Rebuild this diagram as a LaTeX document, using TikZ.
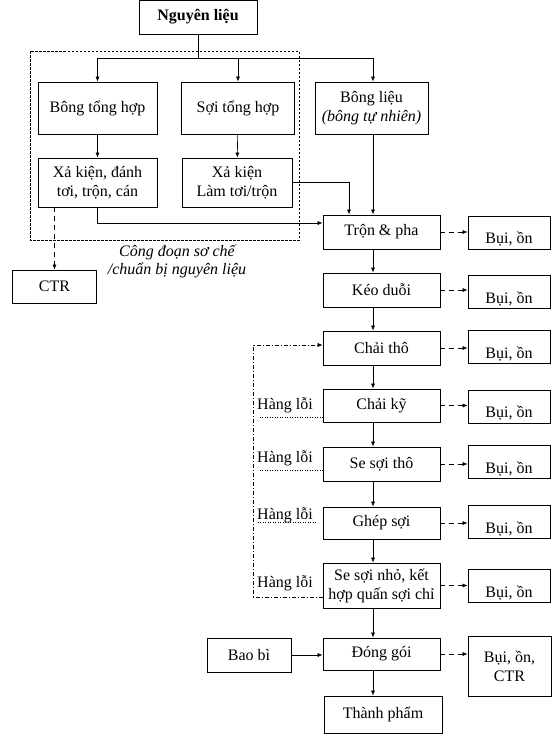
\documentclass[tikz,border=0pt]{standalone}
\usepackage{fontspec}
\setmainfont{Liberation Serif}
\usetikzlibrary{arrows.meta}

\tikzset{
    khoi/.style = {draw, line width = 0.8pt, align = center, inner sep = 2pt,
                   font = \fontsize{16}{19}\selectfont},
    giua/.style = {khoi, minimum width = 117pt, minimum height = 34pt},
    buiOn/.style = {khoi, minimum width = 82pt, minimum height = 33pt,
                    text height = 22pt, text depth = 0pt}, % chữ hơi thấp trong khung
    mui/.style = {-{Latex[length = 5pt, width = 4pt]}, line width = 0.6pt},
    thai/.style = {mui, dash pattern = on 5pt off 4pt},
    khung/.style = {line width = 0.6pt, dash pattern = on 2.5pt off 1.5pt},
    vong/.style = {mui, line width = 0.5pt, dash pattern = on 4pt off 2pt on 1pt off 2pt},
    cham/.style = {line width = 0.5pt, dotted},
    nhan/.style = {font = \fontsize{16}{19}\selectfont, inner sep = 1pt}
}

\begin{document}
\begin{tikzpicture}[x = 1pt, y = -1pt]
    \useasboundingbox (0, 0) rectangle (553, 737);

    % Nguyên liệu và sơ chế
    \node[khoi, minimum width = 118pt, minimum height = 34pt, font = \fontsize{16}{19}\selectfont\bfseries]
        (nguyenLieu) at (198, 17) {Nguyên liệu};
    \node[khoi, minimum width = 119pt, minimum height = 52pt] (bongTH) at (97.5, 108) {Bông tổng hợp};
    \node[khoi, minimum width = 113pt, minimum height = 52pt] (soiTH) at (238, 108) {Sợi tổng hợp};
    \node[khoi, minimum width = 113pt, minimum height = 52pt] (bongLieu) at (371.5, 108)
        {Bông liệu\\\textit{(bông tự nhiên)}};
    \node[khoi, minimum width = 119pt, minimum height = 49pt] (xaKien1) at (97.5, 182.5)
        {Xả kiện, đánh\\tơi, trộn, cán};
    \node[khoi, minimum width = 110pt, minimum height = 49pt] (xaKien2) at (237, 182.5)
        {Xả kiện\\Làm tơi/trộn};
    \node[khoi, minimum width = 84pt, minimum height = 33pt] (ctr) at (54.5, 286.5) {CTR};

    \draw[khung] (30, 51) rectangle (299, 240); % khung công đoạn sơ chế
    \node[nhan, align = center, font = \fontsize{16}{18}\selectfont\itshape] (congDoan) at (177, 261)
        {Công đoạn sơ chế\\/chuẩn bị nguyên liệu};

    % Dây chuyền chính
    \coordinate (truc) at (373, 0); % trục mũi tên dọc
    \node[giua] (tronPha) at (381.5, 232) {Trộn \& pha};
    \node[giua] (keoDuoi) at (381.5, 290) {Kéo duỗi};
    \node[giua] (chaiTho) at (381.5, 348) {Chải thô};
    \node[giua, minimum height = 33pt] (chaiKy) at (381.5, 405.5) {Chải kỹ};
    \node[giua] (seSoiTho) at (381.5, 464) {Se sợi thô};
    \node[giua, minimum height = 32pt] (ghepSoi) at (381.5, 523) {Ghép sợi};
    \node[giua, minimum height = 45pt] (seSoiNho) at (381.5, 585.5) {Se sợi nhỏ, kết\\hợp quấn sợi chỉ};
    \node[giua, minimum height = 32pt] (dongGoi) at (381.5, 654) {Đóng gói};
    \node[giua, minimum width = 118pt, minimum height = 37pt] (thanhPham) at (383, 714.5) {Thành phẩm};
    \node[khoi, minimum width = 84pt, minimum height = 34pt] (baoBi) at (249, 655) {Bao bì};

    % Chất thải
    \node[buiOn] (bui1) at (509, 232.5) {Bụi, ồn};
    \node[buiOn] (bui2) at (509, 292) {Bụi, ồn};
    \node[buiOn] (bui3) at (509, 347) {Bụi, ồn};
    \node[buiOn] (bui4) at (509, 406.5) {Bụi, ồn};
    \node[buiOn] (bui5) at (509, 462) {Bụi, ồn};
    \node[buiOn] (bui6) at (509, 522) {Bụi, ồn};
    \node[buiOn] (bui7) at (509, 586) {Bụi, ồn};
    \node[khoi, minimum width = 83pt, minimum height = 60pt] (bui8) at (509.5, 666) {Bụi, ồn,\\CTR};

    % Hàng lỗi
    \node[nhan] (loi1) at (285, 405) {Hàng lỗi};
    \node[nhan] (loi2) at (285, 458) {Hàng lỗi};
    \node[nhan] (loi3) at (285, 515) {Hàng lỗi};
    \node[nhan] (loi4) at (285, 583) {Hàng lỗi};

    % Mũi tên phần sơ chế
    \coordinate (re) at (198, 58);
    \draw[line width = 0.6pt] (nguyenLieu) -- (re);
    \draw[mui] (re) -| (bongTH);
    \draw[mui] (re) -| (soiTH);
    \draw[mui] (re) -| (bongLieu.north -| truc);
    \draw[mui] (bongTH) -- (xaKien1);
    \draw[mui] (soiTH) -- (xaKien2);
    \draw[mui] (xaKien1.south) |- ([yshift = 9pt]tronPha.west);
    \draw[mui] (xaKien2.east) -| ([xshift = -32.5pt]tronPha.north);
    \draw[mui] (bongLieu.south -| truc) -- (tronPha.north -| truc);
    \draw[thai] (ctr.north |- xaKien1.south) -- (ctr.north);

    % Mũi tên dọc dây chuyền
    \foreach \a/\b in {tronPha/keoDuoi, keoDuoi/chaiTho, chaiTho/chaiKy, chaiKy/seSoiTho,
                       seSoiTho/ghepSoi, ghepSoi/seSoiNho, seSoiNho/dongGoi, dongGoi/thanhPham}
        \draw[mui] (\a.south -| truc) -- (\b.north -| truc);

    % Mũi tên nét đứt sang chất thải
    \foreach \a/\b in {tronPha/bui1, keoDuoi/bui2, chaiTho/bui3, chaiKy/bui4,
                       seSoiTho/bui5, ghepSoi/bui6, seSoiNho/bui7, dongGoi/bui8}
        \draw[thai] (\a.east) -- (\a.east -| \b.west);

    \draw[mui] (baoBi.east) -- (baoBi.east -| dongGoi.west);

    % Vòng hàng lỗi quay lại chải thô
    \draw[vong] ([yshift = -11.5pt]seSoiNho.west) -- ++(-69, 0) |- ([yshift = 3pt]chaiTho.west);
    \draw[cham] ([yshift = -11.5pt]chaiKy.west) -- ++(-65, 0);
    \draw[cham] ([yshift = -6pt]seSoiTho.west) -- ++(-65, 0);
    \draw[cham] ([xshift = -7pt, yshift = 1pt]ghepSoi.west) -- ++(-58, 0);
\end{tikzpicture}
\end{document}
